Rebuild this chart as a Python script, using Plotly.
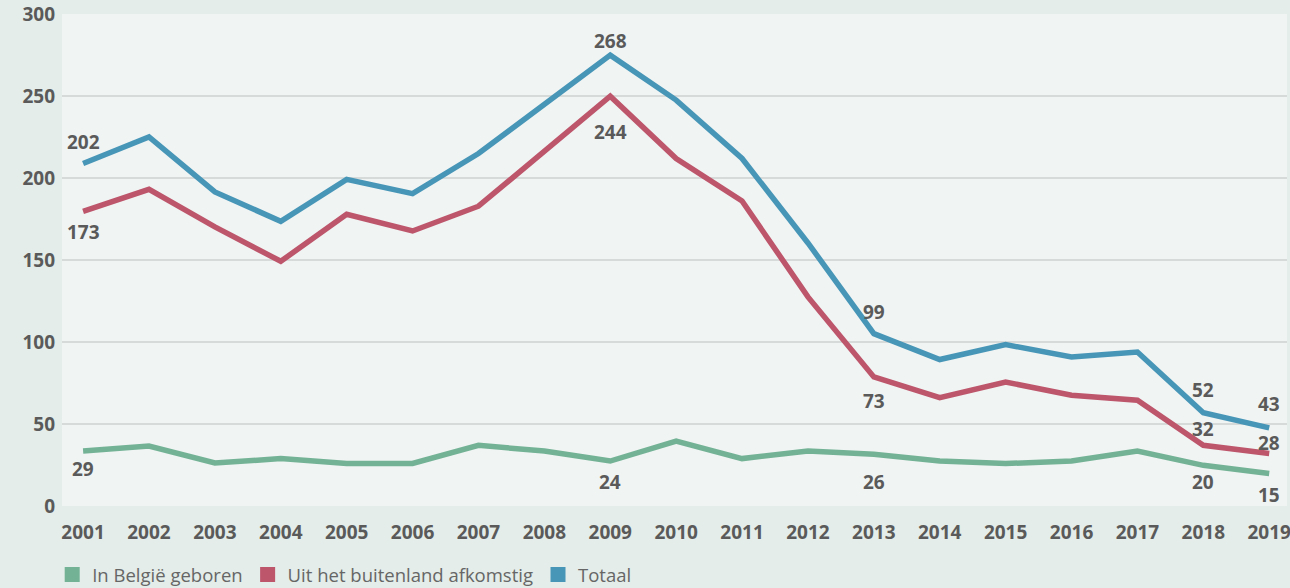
import plotly.graph_objects as go

years = list(range(2001, 2020))

# values as drawn by the lines in the picture
belgie = [33.5, 36.6, 26.2, 28.9, 25.9, 25.9, 37.0, 33.5, 27.4, 39.6,
          28.9, 33.5, 31.5, 27.4, 25.9, 27.4, 33.5, 24.8, 19.8]
buitenland = [179.7, 193.1, 170.2, 149.2, 177.9, 167.7, 182.8, 216.9, 249.9, 211.9,
              186.0, 127.5, 78.7, 66.1, 75.6, 67.5, 64.5, 37.0, 32.0]
totaal = [208.8, 225.0, 191.5, 173.6, 199.2, 190.5, 214.9, 245.4, 274.9, 247.5,
          211.9, 160.4, 105.1, 89.3, 98.4, 90.9, 93.9, 56.9, 47.6]

# printed data labels
label_years = [2001, 2009, 2013, 2018, 2019]
belgie_labels = [29, 24, 26, 20, 15]
buitenland_labels = [173, 244, 73, 32, 28]
totaal_labels = [202, 268, 99, 52, 43]

y_ticks = [0, 50, 100, 150, 200, 250, 300]

names = ["In België geboren", "Uit het buitenland afkomstig", "Totaal"]
colors = ["#73b295", "#bd556b", "#4795b7"]
series = [belgie, buitenland, totaal]
labels = [belgie_labels, buitenland_labels, totaal_labels]
# vertical label offsets (px) per series, per labelled year
label_shift = [
    [-18, -21, -28, -17, -21],
    [-21, -36, -24, 16, 11],
    [22, 14, 22, 23, 24],
]

fig = go.Figure()
for name, col, vals in zip(names, colors, series):
    fig.add_trace(go.Scatter(x=years, y=vals, mode="lines", name=name,
                             line=dict(color=col, width=5.5), showlegend=False,
                             hoverinfo="skip"))
for name, col in zip(names, colors):
    fig.add_trace(go.Scatter(x=[None], y=[None], mode="markers", name=name,
                             marker=dict(symbol="square", size=15, color=col)))

font_family = "Open Sans"
bold = dict(family=font_family, size=19, color="#5a5a5a", weight="bold")
for vals, labs, shifts in zip(series, labels, label_shift):
    for yr, lab, sh in zip(label_years, labs, shifts):
        idx = years.index(yr)
        fig.add_annotation(x=yr, y=vals[idx], text=str(lab), showarrow=False,
                           yshift=sh, xanchor="center", yanchor="middle",
                           font=bold)

fig.update_layout(
    width=1290, height=588,
    margin=dict(l=62, r=3, t=14, b=82, autoexpand=False),
    paper_bgcolor="#e4ede9",
    plot_bgcolor="#f0f4f3",
    font=dict(family=font_family, color="#5a5a5a"),
    showlegend=True,
    legend=dict(orientation="h", x=-0.008, xanchor="left",
                yref="container", y=0.022, yanchor="middle",
                font=dict(family=font_family, size=18.5, color="#666666"),
                bgcolor="rgba(0,0,0,0)", itemclick=False),
    xaxis=dict(range=[2000.68, 2019.27], tickmode="array", tickvals=years,
               ticktext=[str(y) for y in years], showgrid=False, zeroline=False,
               ticks="", ticklabelstandoff=13, tickfont=bold,
               ticklabeloverflow="allow"),
    yaxis=dict(range=[0, 300], tickmode="array", tickvals=y_ticks,
               showgrid=True, gridcolor="#d6dad9", gridwidth=2, zeroline=False,
               ticks="", ticklabelstandoff=6, tickfont=bold),
)

fig.write_html("out.html", config={"displayModeBar": False},
               post_script="document.body.style.margin='0';document.body.style.padding='0';")
